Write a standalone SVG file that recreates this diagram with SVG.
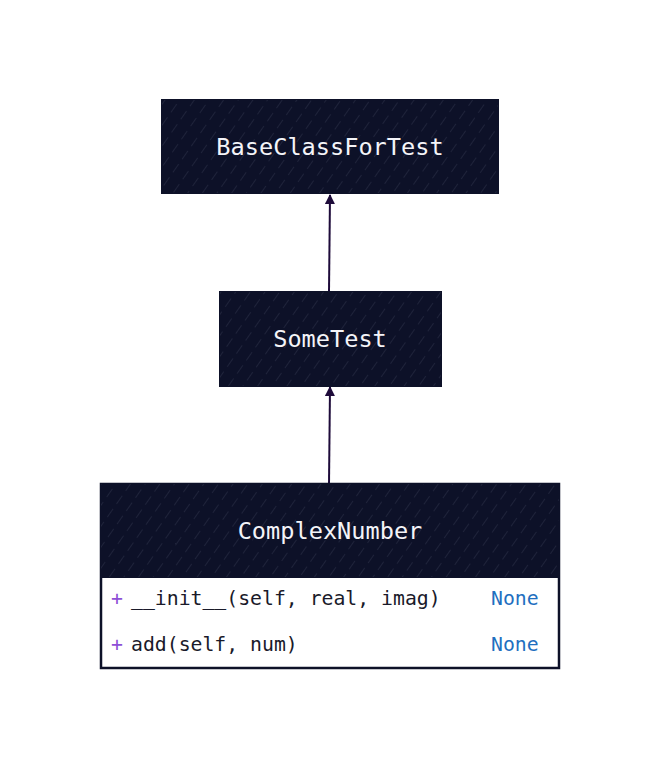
<svg xmlns="http://www.w3.org/2000/svg" width="660" height="770" viewBox="0 0 660 770">
<style>
.box{fill:#0d1128;stroke:#0d1128;stroke-width:2}
.hatch{fill:url(#h)}
.title{font-family:"DejaVu Sans Mono","Liberation Mono",monospace;font-size:23.6px;fill:#f4f4f8;text-anchor:middle}
.row{font-family:"DejaVu Sans Mono","Liberation Mono",monospace;font-size:19.8px;fill:#1a1a2a}
.plus{fill:#8e4fd6}
.ret{fill:#1f6fc0}
.edge{stroke:#1e0b3a;stroke-width:2;fill:none}
</style>
<defs>
<pattern id="h" width="12" height="16" patternUnits="userSpaceOnUse" patternTransform="rotate(35)">
<line x1="0" y1="0" x2="0" y2="16" stroke="#7a8098" stroke-width="0.6" stroke-opacity="0.55" stroke-dasharray="10 6"/>
</pattern>
<marker id="arr" viewBox="0 0 10 10" refX="9" refY="5" markerWidth="12" markerHeight="10" orient="auto" markerUnits="userSpaceOnUse">
<path d="M0,0 L10,5 L0,10 z" fill="#1e0b3a"/>
</marker>
</defs>
<rect width="660" height="770" fill="#ffffff"/>
<g id="connectors">
<path class="edge" d="M329,292 L330,195" marker-end="url(#arr)"/>
<path class="edge" d="M329,484 L330,387" marker-end="url(#arr)"/>
</g>
<g id="BaseClassForTest">
<rect class="box" x="162" y="100" width="336" height="93"/>
<rect class="hatch" x="162" y="100" width="336" height="93"/>
<text class="title" x="330" y="155">BaseClassForTest</text>
</g>
<g id="SomeTest">
<rect class="box" x="220" y="292" width="221" height="94"/>
<rect class="hatch" x="220" y="292" width="221" height="94"/>
<text class="title" x="330" y="347">SomeTest</text>
</g>
<g id="ComplexNumber">
<rect x="101" y="484" width="458" height="184" fill="#ffffff" stroke="#0d1128" stroke-width="2.5"/>
<rect class="box" x="101" y="484" width="458" height="93"/>
<rect class="hatch" x="101" y="484" width="458" height="93"/>
<text class="title" x="330" y="539">ComplexNumber</text>
<text class="row plus" x="111" y="605">+</text>
<text class="row" x="131" y="605">__init__(self, real, imag)</text>
<text class="row ret" x="491" y="605">None</text>
<text class="row plus" x="111" y="651">+</text>
<text class="row" x="131" y="651">add(self, num)</text>
<text class="row ret" x="491" y="651">None</text>
</g>
</svg>
